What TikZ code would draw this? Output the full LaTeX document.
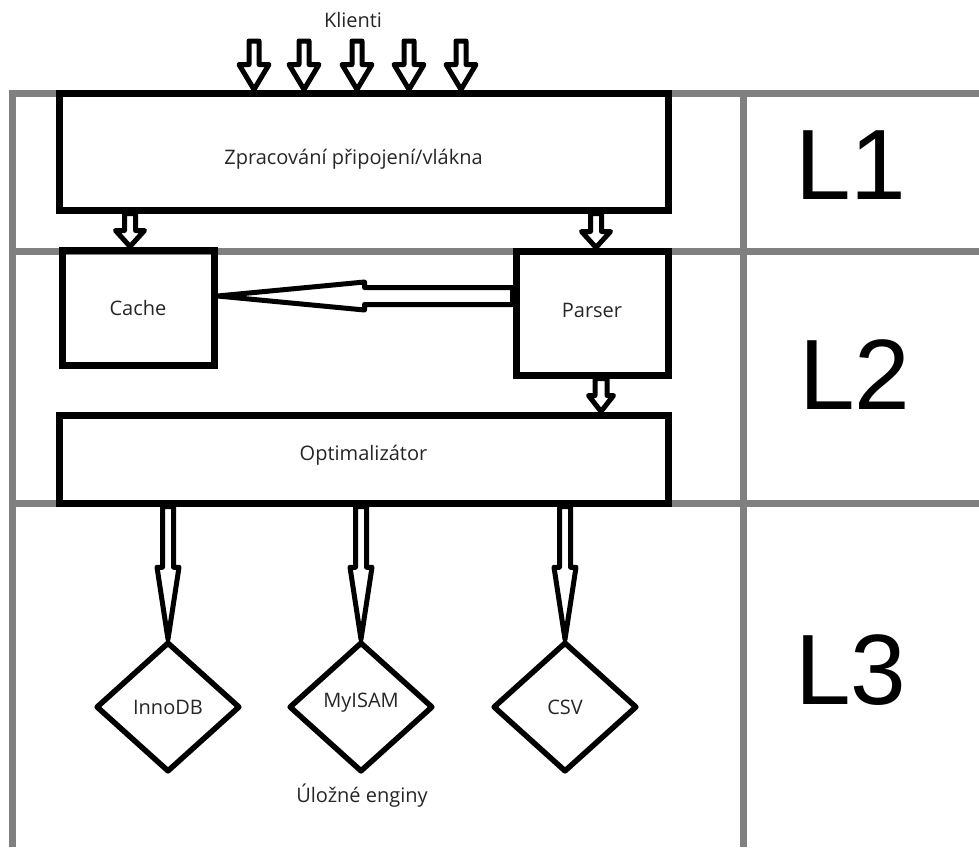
\documentclass[tikz,border=0pt]{standalone}
\usepackage{fontspec}
\setmainfont{Open Sans}
\newfontfamily\layerfont{Liberation Sans}
\usepackage{tikz}
\usetikzlibrary{calc,positioning,shapes.geometric}

\tikzset{
	% hollow block arrow: shaft half width, head half width, head length (all in pt)
	fat/.style n args={3}{draw, fill=white, line width=5pt, line join=round,
		to path={
			let \p1=(\tikztostart), \p2=(\tikztotarget),
				\n1={atan2(\y2-\y1,\x2-\x1)}, \n2={veclen(\x2-\x1,\y2-\y1)-#3}
			in ($(\p1)+(\n1+90:#1pt)$)
			-- ($(\p1)+(\n1:\n2*1pt)+(\n1+90:#1pt)$)
			-- ($(\p1)+(\n1:\n2*1pt)+(\n1+90:#2pt)$)
			-- (\p2)
			-- ($(\p1)+(\n1:\n2*1pt)+(\n1-90:#2pt)$)
			-- ($(\p1)+(\n1:\n2*1pt)+(\n1-90:#1pt)$)
			-- ($(\p1)+(\n1-90:#1pt)$)
			-- cycle}},
}

\begin{document}
\begin{tikzpicture}[x=1pt,y=-1pt,
		layer/.style={draw=black!50, line width=7pt},
		txt/.style={font=\fontsize{20}{24}\selectfont, text=black!85},
		box/.style={draw, line width=7pt, inner sep=0pt, txt},
		eng/.style={diamond, draw, line width=5.5pt, line join=round, inner sep=0pt, minimum width=144pt, minimum height=130pt, txt},
		lay/.style={font=\layerfont\fontsize{100}{100}\selectfont}]
	\useasboundingbox (0,0) rectangle (979,847);

	% layer grid
	\draw [layer] (12,847) -- (12,93) -- (979,93);
	\draw [layer] (12,251) -- (979,251);
	\draw [layer] (12,503) -- (979,503);
	\draw [layer] (743,93) -- (743,847);

	\node (l1) at (851,165) [lay] {L1};
	\node (l2) at (855,375) [lay] {L2};
	\node (l3) at (851,670) [lay] {L3};

	\node (zpr) at (363.5,151.5) [box, minimum width=609pt, minimum height=117pt,
		label={[txt, xshift=-10pt, yshift=-8pt] center:Zpracování připojení/vlákna}] {};
	\node (cache) at (138,307.5) [box, minimum width=152pt, minimum height=115pt] {Cache};
	\node (parser) at (592,313) [box, minimum width=152pt, minimum height=124pt,
		label={[txt, yshift=3pt] center:Parser}] {};
	\node (opt) at (363.5,459) [box, minimum width=609pt, minimum height=88pt,
		label={[txt, yshift=4pt] center:Optimalizátor}] {};

	\node (inno) at (168,707) [eng] {InnoDB};
	\node (myisam) at (361,707) [eng, label={[txt, yshift=4pt] center:MyISAM}] {};
	\node (csv) at (565,707) [eng] {CSV};

	\node (klienti) at (353,20) [txt] {Klienti};
	\node (uloz) at (362,796) [txt] {Úložné enginy};

	% clients
	\coordinate (k1) at (254,41);
	\coordinate (k2) at (304,41);
	\coordinate (k3) at (357,41);
	\coordinate (k4) at (409,41);
	\coordinate (k5) at (461,41);
	\draw [fat={5}{15}{25}] (k1) to (k1 |- zpr.north);
	\draw [fat={5}{15}{25}] (k2) to (k2 |- zpr.north);
	\draw [fat={5}{15}{25}] (k3) to (k3 |- zpr.north);
	\draw [fat={5}{15}{25}] (k4) to (k4 |- zpr.north);
	\draw [fat={5}{15}{25}] (k5) to (k5 |- zpr.north);

	\draw [fat={5.5}{14.5}{16}] ([xshift=-8pt]cache.north |- zpr.south) to ([xshift=-8pt]cache.north);
	\draw [fat={5.5}{14.5}{16}] ([xshift=4pt]parser.north |- zpr.south) to ([xshift=4pt]parser.north);
	\draw [fat={8.5}{14}{147}] ([yshift=17pt]parser.west) to ([yshift=11.5pt]cache.east);
	\draw [fat={6}{12.5}{16}] ([xshift=9pt]parser.south) to ([xshift=9pt]parser.south |- opt.north);

	% storage engines
	\draw [fat={5.5}{11}{72}] (inno.north |- opt.south) to (inno.north);
	\draw [fat={5.5}{11}{72}] (myisam.north |- opt.south) to (myisam.north);
	\draw [fat={5.5}{11}{72}] (csv.north |- opt.south) to (csv.north);
\end{tikzpicture}
\end{document}
